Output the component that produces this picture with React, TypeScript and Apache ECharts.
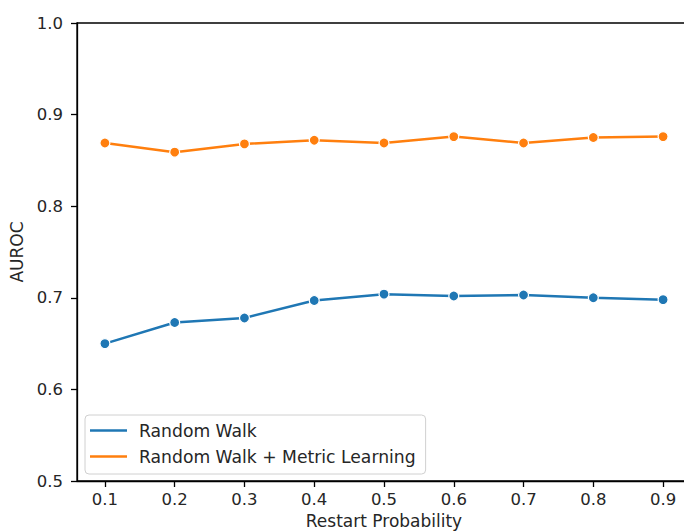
import React, { useEffect, useRef } from "react";
import * as echarts from "echarts";

const restartProbs = [0.1, 0.2, 0.3, 0.4, 0.5, 0.6, 0.7, 0.8, 0.9];
const randomWalk = [0.650, 0.673, 0.678, 0.697, 0.704, 0.702, 0.703, 0.700, 0.698];
const randomWalkMetric = [0.869, 0.859, 0.868, 0.872, 0.869, 0.876, 0.869, 0.875, 0.876];
const yTicks = [0.5, 0.6, 0.7, 0.8, 0.9, 1.0];

const FONT = "DejaVu Sans";
const TXT = "#262626";

export default function App() {
  const ref = useRef<HTMLDivElement>(null);
  useEffect(() => {
    if (!ref.current) return;
    const chart = echarts.init(ref.current, undefined, { renderer: "svg" });
    const mk = (name: string, data: number[], color: string) => ({
      name,
      type: "line",
      data: restartProbs.map((x, i) => [x, data[i]]),
      symbol: "circle",
      symbolSize: 10,
      lineStyle: { color, width: 2.5 },
      itemStyle: { color, borderColor: "#fff", borderWidth: 1.2 },
      emphasis: { disabled: true },
    });
    chart.setOption({
      animation: false,
      textStyle: { fontFamily: FONT },
      grid: {
        left: 77,
        right: -7,
        top: 23,
        bottom: 50,
        outerBoundsMode: "none",
        containLabel: false,
        show: true,
        borderColor: "#000",
        borderWidth: 1.3,
        backgroundColor: "transparent",
      },
      legend: {
        orient: "vertical",
        left: 85,
        top: 415,
        padding: [7, 10, 9, 5],
        itemGap: 9,
        itemWidth: 37,
        itemHeight: 2.5,
        backgroundColor: "rgba(255,255,255,0.8)",
        borderColor: "#d0d0d0",
        borderWidth: 1,
        borderRadius: 4,
        textStyle: {
          fontFamily: FONT,
          fontSize: 17.2,
          color: TXT,
          lineHeight: 16,
          padding: [0, 0, 0, 7],
        },
        data: [
          { name: "Random Walk", icon: "rect", itemStyle: { color: "#1f77b4", borderWidth: 0 } },
          { name: "Random Walk + Metric Learning", icon: "rect", itemStyle: { color: "#ff7f0e", borderWidth: 0 } },
        ],
      },
      xAxis: {
        type: "value",
        min: 0.06,
        max: 0.94,
        name: "Restart Probability",
        nameLocation: "middle",
        nameGap: 31,
        nameTextStyle: { fontFamily: FONT, fontSize: 17, color: TXT },
        splitLine: { show: false },
        axisLine: { show: true, lineStyle: { color: "#000", width: 1.3 } },
        axisTick: {
          show: true,
          length: 6,
          lineStyle: { color: "#000", width: 1.3 },
          customValues: restartProbs,
        },
        axisLabel: {
          fontFamily: FONT,
          fontSize: 16.5,
          color: TXT,
          margin: 10,
          customValues: restartProbs,
          formatter: (v: number) => v.toFixed(1),
        },
      },
      yAxis: {
        type: "value",
        min: 0.5,
        max: 1.0,
        interval: 0.1,
        name: "AUROC",
        nameLocation: "middle",
        nameGap: 50,
        nameTextStyle: { fontFamily: FONT, fontSize: 17, color: TXT },
        splitLine: { show: false },
        axisLine: { show: true, lineStyle: { color: "#000", width: 1.3 } },
        axisTick: {
          show: true,
          length: 6,
          lineStyle: { color: "#000", width: 1.3 },
          customValues: yTicks,
        },
        axisLabel: {
          fontFamily: FONT,
          fontSize: 16.5,
          color: TXT,
          margin: 14,
          customValues: yTicks,
          formatter: (v: number) => v.toFixed(1),
        },
      },
      series: [
        mk("Random Walk", randomWalk, "#1f77b4"),
        mk("Random Walk + Metric Learning", randomWalkMetric, "#ff7f0e"),
      ],
    });
    return () => chart.dispose();
  }, []);
  return (
    <div
      ref={ref}
      style={{ position: "absolute", left: 0, top: 0, width: 684, height: 531, background: "#fff" }}
    />
  );
}
